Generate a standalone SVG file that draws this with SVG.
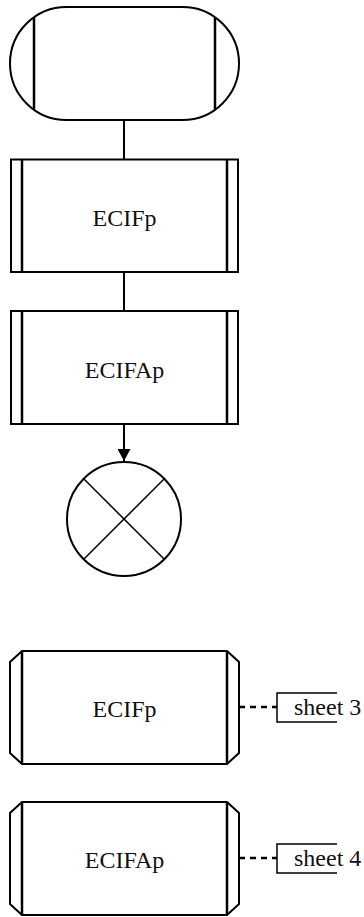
<svg xmlns="http://www.w3.org/2000/svg" width="364" height="917" viewBox="0 0 364 917">
<style>
.o{fill:#fff;stroke:#000;stroke-width:2}
.i{fill:none;stroke:#000;stroke-width:2.5}
.c{fill:none;stroke:#000;stroke-width:2}
.d{fill:none;stroke:#000;stroke-width:2.5;stroke-dasharray:6,5}
.b{fill:none;stroke:#000;stroke-width:1.5}
.t{font-family:"Liberation Serif","Times New Roman",serif;font-size:24px;fill:#111}
.m{text-anchor:middle}
</style>
<defs>
<marker id="arr" viewBox="0 0 12 13" refX="12" refY="6.5" markerWidth="12" markerHeight="13" markerUnits="userSpaceOnUse" orient="auto">
<path d="M0,0 L12,6.5 L0,13 Z" fill="#000"/>
</marker>
</defs>
<g id="connectors">
<line class="c" x1="124" y1="120" x2="124" y2="159.5"/>
<line class="c" x1="124" y1="272" x2="124" y2="311"/>
<line class="c" x1="124" y1="424" x2="124" y2="461" marker-end="url(#arr)"/>
<line class="d" x1="239" y1="707" x2="277" y2="707"/>
<line class="d" x1="239" y1="858" x2="277" y2="858"/>
</g>
<g id="start">
<rect class="o" x="10" y="7" width="229" height="113" rx="56.5" ry="56.5"/>
<line class="i" x1="34" y1="17.3" x2="34" y2="109.7"/>
<line class="i" x1="215" y1="17.3" x2="215" y2="109.7"/>
</g>
<g id="proc1">
<rect class="o" x="11" y="159.5" width="227" height="112.5"/>
<line class="i" x1="22" y1="159.5" x2="22" y2="272"/>
<line class="i" x1="227" y1="159.5" x2="227" y2="272"/>
<text class="t m" x="124.5" y="226">ECIFp</text>
</g>
<g id="proc2">
<rect class="o" x="11" y="311" width="227" height="113"/>
<line class="i" x1="22" y1="311" x2="22" y2="424"/>
<line class="i" x1="227" y1="311" x2="227" y2="424"/>
<text class="t m" x="124.5" y="378">ECIFAp</text>
</g>
<g id="end">
<circle class="c" cx="124" cy="519" r="57"/>
<line stroke="#000" stroke-width="1.5" x1="83.7" y1="478.7" x2="164.3" y2="559.3"/>
<line stroke="#000" stroke-width="1.5" x1="164.3" y1="478.7" x2="83.7" y2="559.3"/>
</g>
<g id="def1">
<path class="o" d="M22,651 L227,651 L239,662 L239,753 L227,764 L22,764 L10,753 L10,662 Z"/>
<line class="i" x1="22" y1="651" x2="22" y2="764"/>
<line class="i" x1="227" y1="651" x2="227" y2="764"/>
<text class="t m" x="124.5" y="717">ECIFp</text>
</g>
<g id="ref1">
<path class="b" d="M337,693 L277,693 L277,722 L337,722"/>
<text class="t" x="294" y="715">sheet 3</text>
</g>
<g id="def2">
<path class="o" d="M22,802 L227,802 L239,813 L239,904 L227,915 L22,915 L10,904 L10,813 Z"/>
<line class="i" x1="22" y1="802" x2="22" y2="915"/>
<line class="i" x1="227" y1="802" x2="227" y2="915"/>
<text class="t m" x="124.5" y="868">ECIFAp</text>
</g>
<g id="ref2">
<path class="b" d="M337,844 L277,844 L277,873 L337,873"/>
<text class="t" x="294" y="866">sheet 4</text>
</g>
</svg>
